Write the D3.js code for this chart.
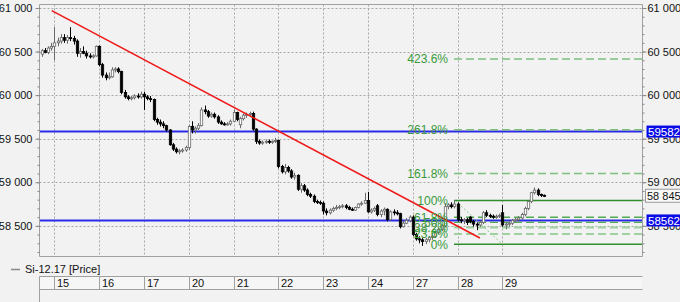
<!DOCTYPE html>
<html>
<head>
<meta charset="utf-8">
<script src="https://cdn.jsdelivr.net/npm/d3@7"></script>
<style>
  html, body { margin: 0; padding: 0; background: #f2f2f2; }
  svg { display: block; font-family: "Liberation Sans", Arial, sans-serif; }
</style>
</head>
<body>
<div id="chart"></div>
<script>
// hourly candles, Si-12.17
const opens = [
  60470, 60510, 60490, 60540,
  60560, 60600, 60620, 60660, 60630, 60660, 60650, 60620, 60480, 60500, 60480, 60450, 60440, 60450,
  60560, 60350, 60230, 60200, 60210, 60290, 60300, 60270, 60030, 59980, 59960, 59970, 59990, 59980,
  60010, 59980, 59960, 59950, 59720, 59690, 59670, 59650, 59600, 59430, 59380, 59350, 59360, 59370,
  59400, 59640, 59600, 59620, 59650, 59830, 59810, 59760, 59780, 59750, 59690, 59670, 59660, 59670,
  59700, 59800, 59660, 59730, 59770, 59780, 59790, 59610, 59470, 59450, 59460, 59470, 59460, 59470,
  59480, 59180, 59120, 59170, 59130, 59060, 59080, 58920, 58960, 58910, 58860, 58840, 58780, 58770,
  58760, 58670, 58650, 58680, 58700, 58710, 58720, 58730, 58710, 58690, 58680, 58710, 58750, 58760,
  58790, 58660, 58680, 58730, 58630, 58670, 58690, 58570, 58660, 58650, 58640, 58490, 58530, 58560,
  58600, 58400, 58350, 58340, 58320, 58340, 58370, 58380, 58420, 58460, 58500, 58720, 58740, 58720,
  58750, 58570, 58560, 58570, 58600, 58550, 58520, 58510, 58540, 58650, 58620, 58610, 58600, 58610,
  58650, 58510, 58520, 58530, 58560, 58570, 58590, 58630, 58700, 58780, 58880, 58910, 58860, 58850
];
const highs = [
  60530, 60540, 60560, 60600,
  60780, 60660, 60700, 60700, 60690, 60780, 60680, 60640, 60540, 60560, 60510, 60480, 60470, 60570,
  60570, 60370, 60260, 60260, 60320, 60320, 60320, 60280, 60060, 60000, 59990, 60010, 60020, 60040,
  60040, 60000, 59990, 59960, 59740, 59720, 59700, 59660, 59610, 59450, 59400, 59380, 59390, 59420,
  59660, 59700, 59640, 59680, 59860, 59880, 59830, 59800, 59800, 59770, 59710, 59690, 59690, 59720,
  59830, 59810, 59750, 59790, 59800, 59810, 59810, 59620, 59490, 59480, 59490, 59490, 59480, 59510,
  59490, 59200, 59210, 59190, 59150, 59110, 59090, 58990, 58980, 58930, 58880, 58860, 58800, 58790,
  58780, 58700, 58700, 58720, 58740, 58740, 58750, 58750, 58730, 58710, 58720, 58760, 58780, 58880,
  58890, 58700, 58720, 58750, 58690, 58710, 58700, 58680, 58690, 58680, 58650, 58560, 58590, 58620,
  58620, 58420, 58380, 58360, 58360, 58380, 58400, 58440, 58480, 58520, 58760, 58760, 58770, 58790,
  58770, 58600, 58590, 58590, 58610, 58570, 58540, 58560, 58670, 58680, 58640, 58630, 58630, 58640,
  58740, 58540, 58550, 58580, 58590, 58610, 58650, 58720, 58790, 58890, 58940, 58930, 58870, 58860
];
const lows = [
  60440, 60480, 60470, 60510,
  60400, 60560, 60590, 60600, 60590, 60620, 60580, 60440, 60430, 60470, 60420, 60420, 60420, 60440,
  60330, 60200, 60170, 60180, 60200, 60260, 60250, 60010, 59960, 59940, 59940, 59950, 59960, 59960,
  59830, 59940, 59920, 59700, 59660, 59640, 59620, 59580, 59420, 59360, 59330, 59320, 59340, 59350,
  59370, 59560, 59560, 59600, 59640, 59780, 59740, 59740, 59730, 59670, 59660, 59650, 59650, 59650,
  59690, 59700, 59620, 59710, 59740, 59750, 59590, 59440, 59430, 59430, 59440, 59440, 59440, 59450,
  59160, 59100, 59090, 59110, 59040, 59030, 58900, 58880, 58890, 58840, 58820, 58760, 58750, 58740,
  58630, 58620, 58630, 58660, 58680, 58690, 58700, 58690, 58680, 58670, 58670, 58700, 58730, 58750,
  58650, 58640, 58660, 58610, 58600, 58620, 58550, 58560, 58620, 58620, 58470, 58480, 58520, 58540,
  58380, 58330, 58300, 58270, 58290, 58310, 58340, 58360, 58400, 58440, 58480, 58690, 58700, 58700,
  58550, 58530, 58520, 58510, 58530, 58490, 58450, 58490, 58520, 58600, 58590, 58580, 58580, 58590,
  58490, 58460, 58490, 58510, 58540, 58550, 58570, 58610, 58680, 58760, 58860, 58840, 58830, 58830
];
const closes = [
  60510, 60490, 60540, 60560,
  60600, 60620, 60660, 60630, 60660, 60650, 60620, 60480, 60500, 60480, 60450, 60440, 60450, 60560,
  60350, 60230, 60200, 60210, 60290, 60300, 60270, 60030, 59980, 59960, 59970, 59990, 59980, 60010,
  59980, 59960, 59950, 59720, 59690, 59670, 59650, 59600, 59430, 59380, 59350, 59360, 59370, 59400,
  59640, 59600, 59620, 59650, 59830, 59810, 59760, 59780, 59750, 59690, 59670, 59660, 59670, 59700,
  59800, 59720, 59730, 59770, 59780, 59790, 59610, 59470, 59450, 59460, 59470, 59460, 59470, 59480,
  59180, 59120, 59170, 59130, 59060, 59080, 58920, 58960, 58910, 58860, 58840, 58780, 58770, 58760,
  58670, 58650, 58680, 58700, 58710, 58720, 58730, 58710, 58690, 58680, 58710, 58750, 58760, 58790,
  58660, 58680, 58700, 58630, 58670, 58690, 58570, 58660, 58650, 58640, 58490, 58530, 58560, 58600,
  58400, 58350, 58340, 58320, 58340, 58370, 58380, 58420, 58460, 58500, 58720, 58740, 58720, 58750,
  58570, 58560, 58570, 58540, 58550, 58520, 58510, 58540, 58650, 58620, 58610, 58600, 58610, 58620,
  58510, 58520, 58530, 58560, 58570, 58590, 58630, 58700, 58780, 58880, 58910, 58860, 58850, 58845
];

// first candle of each trading day and its label
const dayStarts = [4, 18, 32, 46, 60, 74, 88, 102, 116, 130, 144];
const dayLabels = ["15", "16", "17", "20", "21", "22", "23", "24", "27", "28", "29"];

const priceTicks = [58500, 59000, 59500, 60000, 60500, 61000];
const minorTicks = d3.range(58200, 61001, 100);

// drawings
const levelLines = [59582, 58562];
const trendLine = [[3.2, 60970], [137, 58360]];
const fibLow = 58288, fibHigh = 58790;
const fibLevels = [0, 23.6, 38.2, 50, 61.8, 100, 161.8, 261.8, 423.6];
const fibDiag = [[129.3, 58790], [144, 58290]];
const lastPrice = 58845;

const W = 680, H = 302;
const plot = {left: 39.5, right: 642.5, top: 4.5, bottom: 256.5};

const svg = d3.select("#chart").append("svg")
    .attr("width", W).attr("height", H);

svg.append("rect").attr("width", W).attr("height", H).attr("fill", "#f2f2f2");

const x = d3.scaleLinear().domain([0, 157]).range([41.5, 543.9]);
const y = d3.scaleLinear().domain([58148, 61040]).range([plot.bottom, plot.top]);

svg.append("defs").append("clipPath").attr("id", "clip")
  .append("rect")
    .attr("x", plot.left).attr("y", plot.top)
    .attr("width", plot.right - plot.left).attr("height", plot.bottom - plot.top);

// grid
const grid = svg.append("g");
grid.selectAll("line.h").data(priceTicks).enter().append("line")
    .attr("x1", plot.left).attr("x2", plot.right)
    .attr("y1", d => Math.round(y(d)) + 0.5).attr("y2", d => Math.round(y(d)) + 0.5)
    .attr("stroke", "#a8a8a8").attr("stroke-dasharray", "2,2");
grid.selectAll("line.v").data(dayStarts).enter().append("line")
    .attr("x1", d => Math.round(x(d)) + 0.5).attr("x2", d => Math.round(x(d)) + 0.5)
    .attr("y1", plot.top).attr("y2", plot.bottom)
    .attr("stroke", "#a8a8a8").attr("stroke-dasharray", "2,2");

const area = svg.append("g").attr("clip-path", "url(#clip)");

// blue levels
area.selectAll("line.level").data(levelLines).enter().append("line")
    .attr("x1", plot.left).attr("x2", plot.right)
    .attr("y1", d => y(d)).attr("y2", d => y(d))
    .attr("stroke", "#2a2ae8").attr("stroke-width", 2);

// fibonacci
const fibColor = lvl => {
  if (lvl === 0 || lvl === 100) return {c: "#2f8f2f", w: 1.5, dash: null};
  if (lvl === 38.2 || lvl === 23.6) return {c: "#9fd09f", w: 2, dash: "8,4"};
  if (lvl === 50 || lvl === 61.8) return {c: "#55aa55", w: 1.3, dash: "8,4"};
  return {c: "#7cc07c", w: 1.5, dash: "8,4"};
};
const fibPrice = lvl => fibLow + (fibHigh - fibLow) * lvl / 100;

area.append("line")
    .attr("x1", x(fibDiag[0][0])).attr("y1", y(fibDiag[0][1]))
    .attr("x2", x(fibDiag[1][0])).attr("y2", y(fibDiag[1][1]))
    .attr("stroke", "#8ccc8c").attr("stroke-dasharray", "2,2");

area.selectAll("line.fib").data(fibLevels).enter().append("line")
    .attr("x1", 454).attr("x2", plot.right)
    .attr("y1", d => y(fibPrice(d))).attr("y2", d => y(fibPrice(d)))
    .attr("stroke", d => fibColor(d).c)
    .attr("stroke-width", d => fibColor(d).w)
    .attr("stroke-dasharray", d => fibColor(d).dash);

// candles
const idx = d3.range(closes.length);
const bw = 2.4;
const candles = area.append("g");
candles.selectAll("line.wick").data(idx).enter().append("line")
    .attr("x1", i => Math.round(x(i)) + 0.5).attr("x2", i => Math.round(x(i)) + 0.5)
    .attr("y1", i => y(highs[i])).attr("y2", i => y(lows[i]))
    .attr("stroke", i => closes[i] < opens[i] ? "#000" : "#6a6a6a");
candles.selectAll("rect").data(idx).enter().append("rect")
    .attr("x", i => Math.round(x(i)) + 0.5 - bw / 2)
    .attr("width", bw)
    .attr("y", i => y(Math.max(opens[i], closes[i])))
    .attr("height", i => Math.max(1, Math.abs(y(opens[i]) - y(closes[i]))))
    .attr("fill", i => closes[i] < opens[i] ? "#000" : "#fff")
    .attr("stroke", i => closes[i] < opens[i] ? "#000" : "#6a6a6a")
    .attr("stroke-width", 0.8);

// red trend line
area.append("line")
    .attr("x1", x(trendLine[0][0])).attr("y1", y(trendLine[0][1]))
    .attr("x2", x(trendLine[1][0])).attr("y2", y(trendLine[1][1]))
    .attr("stroke", "#f01818").attr("stroke-width", 1.5);

// fib labels
svg.selectAll("text.fib").data(fibLevels).enter().append("text")
    .attr("x", 448).attr("y", d => y(fibPrice(d)))
    .attr("dy", "0.36em")
    .attr("text-anchor", "end")
    .attr("font-size", 12)
    .attr("fill", "#3a9a3a")
    .text(d => d + "%");

// frame
svg.append("path")
    .attr("d", `M${plot.left},${plot.bottom}V${plot.top}H${plot.right}V${plot.bottom}Z`)
    .attr("fill", "none").attr("stroke", "#a0a0a0");

// price axes
const fmt = d => d3.format(",")(d).replace(",", " ");
svg.append("g").attr("transform", `translate(${plot.left},0)`)
  .call(d3.axisLeft(y).tickValues(minorTicks).tickSize(2).tickFormat(""))
  .call(g => g.select(".domain").remove())
  .call(g => g.selectAll("line").attr("stroke", "#888"));
svg.append("g").attr("transform", `translate(${plot.left},0)`)
  .call(d3.axisLeft(y).tickValues(priceTicks).tickSize(4).tickPadding(3).tickFormat(fmt))
  .call(g => g.select(".domain").remove())
  .call(g => g.selectAll("line").attr("stroke", "#888"))
  .call(g => g.selectAll("text").attr("font-size", 11).attr("fill", "#111")
      .attr("font-family", "'Liberation Sans', Arial, sans-serif"));
svg.append("g").attr("transform", `translate(${plot.right},0)`)
  .call(d3.axisRight(y).tickValues(minorTicks).tickSize(2).tickFormat(""))
  .call(g => g.select(".domain").remove())
  .call(g => g.selectAll("line").attr("stroke", "#888"));
svg.append("g").attr("transform", `translate(${plot.right},0)`)
  .call(d3.axisRight(y).tickValues(priceTicks).tickSize(4).tickPadding(1).tickFormat(fmt))
  .call(g => g.select(".domain").remove())
  .call(g => g.selectAll("line").attr("stroke", "#888"))
  .call(g => g.selectAll("text").attr("font-size", 11).attr("fill", "#111")
      .attr("font-family", "'Liberation Sans', Arial, sans-serif"));

// right side price markers
levelLines.forEach(v => {
  const yy = y(v);
  svg.append("rect").attr("x", 646.5).attr("y", yy - 6).attr("width", 40).attr("height", 12)
      .attr("fill", "#0a0ae6");
  svg.append("text").attr("x", 648).attr("y", yy).attr("dy", "0.36em")
      .attr("font-size", 11.5).attr("fill", "#fff").text(v + ".");
});
svg.append("rect").attr("x", 645.5).attr("y", y(lastPrice) - 6.5).attr("width", 40).attr("height", 13)
    .attr("fill", "#fafafa").attr("stroke", "#999");
svg.append("text").attr("x", 647).attr("y", y(lastPrice)).attr("dy", "0.36em")
    .attr("font-size", 11).attr("fill", "#111").text(fmt(lastPrice));

// legend
svg.append("line").attr("x1", 11).attr("x2", 20).attr("y1", 269.5).attr("y2", 269.5)
    .attr("stroke", "#888").attr("stroke-width", 1.5);
svg.append("text").attr("x", 25).attr("y", 269).attr("dy", "0.36em")
    .attr("font-size", 11).attr("fill", "#111").text("Si-12.17 [Price]");

// date band
const band = {top: 276.5, bottom: 289.5};
svg.append("path")
    .attr("d", `M${plot.left},${H}V${band.top}H${plot.right}M${plot.left},${band.bottom}H${plot.right}`)
    .attr("fill", "none").attr("stroke", "#a0a0a0");
svg.append("rect").attr("x", plot.left + 0.5).attr("y", band.top + 0.5)
    .attr("width", plot.right - plot.left - 1).attr("height", band.bottom - band.top - 1)
    .attr("fill", "#f6f6f6");
svg.selectAll("line.sep").data(dayStarts).enter().append("line")
    .attr("x1", d => Math.round(x(d)) + 0.5).attr("x2", d => Math.round(x(d)) + 0.5)
    .attr("y1", band.top).attr("y2", band.bottom)
    .attr("stroke", "#a0a0a0");
svg.selectAll("text.day").data(dayStarts).enter().append("text")
    .attr("x", d => Math.round(x(d)) + 3)
    .attr("y", (band.top + band.bottom) / 2).attr("dy", "0.36em")
    .attr("font-size", 11).attr("fill", "#111")
    .text((d, i) => dayLabels[i]);
</script>
</body>
</html>
